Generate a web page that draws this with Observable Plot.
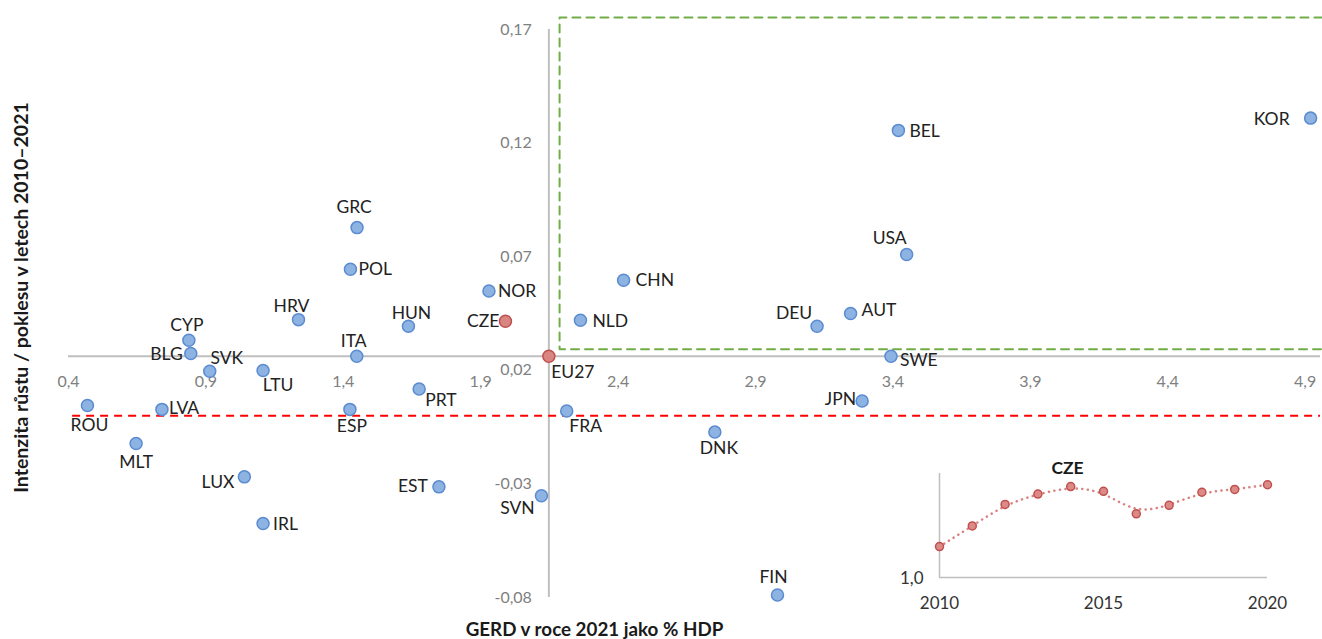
<!DOCTYPE html>
<html><head><meta charset="utf-8">
<script src="https://cdn.jsdelivr.net/npm/d3@7"></script>
<script src="https://cdn.jsdelivr.net/npm/@observablehq/plot@0.6"></script>
<style>
html,body{margin:0;padding:0;background:#fff;overflow:hidden;}
#wrap{position:relative;width:1322px;height:639px;background:#fff;}
#main{position:absolute;left:0;top:0;}
#inset{position:absolute;left:880px;top:440px;}
svg{font-family:Lato, "Open Sans", sans-serif;}
</style></head><body>
<div id="wrap"><div id="main"></div><div id="inset"></div></div>
<script>
// ---- Data ----
const countries = ["KOR","BEL","USA","GRC","POL","HRV","HUN","NOR","CZE","CHN","NLD","DEU","AUT","SWE","JPN","FRA","DNK","FIN","SVN","EU27","EST","IRL","LUX","MLT","ROU","LVA","ESP","PRT","ITA","LTU","SVK","BLG","CYP"];
const gerd2021 = [4.92,3.42,3.45,1.45,1.426,1.237,1.637,1.93,1.99,2.42,2.263,3.124,3.246,3.393,3.288,2.213,2.752,2.98,2.121,2.148,1.748,1.108,1.04,0.646,0.469,0.74,1.424,1.676,1.449,1.108,0.914,0.845,0.838];
const growth = [0.131,0.1256,0.071,0.0828,0.0645,0.0423,0.0394,0.0549,0.0416,0.0596,0.042,0.0394,0.045,0.0262,0.0065,0.0021,-0.0072,-0.0789,-0.0352,0.0262,-0.0313,-0.0474,-0.0269,-0.0122,0.0045,0.0028,0.0028,0.0118,0.0262,0.0199,0.0196,0.0274,0.0332];
const highlighted = ["CZE","EU27"];
const xTickValues = [0.4,0.9,1.4,1.9,2.4,2.9,3.4,3.9,4.4,4.9];
const yTickValues = [0.17,0.12,0.07,0.02,-0.03,-0.08];
const referenceGrowth = 0;                 // red dashed line
const greenBox = {x1: 2.187, x2: 4.963, y1: 0.0293, y2: 0.1753};

const insetYears = [2010,2011,2012,2013,2014,2015,2016,2017,2018,2019,2020];
const insetGerd = [1.33,1.55,1.78,1.89,1.97,1.92,1.68,1.77,1.91,1.94,1.99];
const insetYearTicks = [2010,2015,2020];
const insetValueTicks = [1.0];

// ---- Label layout (anchor, dx, dy) ----
const labelLayout = {
  KOR:["end",-21,1], BEL:["start",11,1], USA:["middle",-17,-16], GRC:["middle",-3,-20],
  POL:["start",8,0], HRV:["middle",-7,-13], HUN:["middle",3,-13], NOR:["start",9,0],
  CZE:["end",-6,0], CHN:["start",12,0], NLD:["start",12,1], DEU:["middle",-23,-13],
  AUT:["start",11,-3], SWE:["start",9,4], JPN:["end",-6,-2], FRA:["middle",19,15],
  DNK:["middle",4,16], FIN:["middle",-4,-18], SVN:["middle",-24,13], EU27:["middle",24,16],
  EST:["end",-11,0], IRL:["start",10,1], LUX:["end",-10,6], MLT:["middle",0,19],
  ROU:["middle",2,20], LVA:["start",7,-1], ESP:["middle",2,17], PRT:["start",6,11],
  ITA:["middle",-3,-15], LTU:["middle",15,15], SVK:["middle",17,-13], BLG:["end",-8,1],
  CYP:["middle",-2,-15]
};

const rows = countries.map((c,i)=>({country:c, gerd:gerd2021[i], growth:growth[i]}));
const eu = rows.find(d=>d.country==="EU27");
const comma = f => v => f(v).replace(".", ",").replace("\u2212", "-");
const fx = comma(d3.format(".1f"));
const fy = comma(d3.format(".2f"));

const labelMarks = rows.map(d => {
  const [anchor, dx, dy] = labelLayout[d.country];
  return Plot.text([d], {x:"gerd", y:"growth", text:"country", textAnchor:anchor, dx, dy,
    fontSize:17.5, fill:"#222"});
});

const main = Plot.plot({
  width:1322, height:639, margin:0,
  x:{domain:[0.4,4.956], range:[68,1320], axis:null},
  y:{domain:[-0.08,0.17], range:[597,29], axis:null},
  style:{background:"transparent", overflow:"visible"},
  marks:[
    // green dashed quadrant box (three sides visible)
    Plot.line([
      {x:greenBox.x2,y:greenBox.y2},{x:greenBox.x1,y:greenBox.y2},
      {x:greenBox.x1,y:greenBox.y1},{x:greenBox.x2,y:greenBox.y1}
    ],{x:"x",y:"y",stroke:"#70ad47",strokeWidth:2,strokeDasharray:"8 6"}),
    // axes crossing at EU27
    Plot.ruleX([eu.gerd],{y1:-0.08,y2:0.17,stroke:"#bfbfbf",strokeWidth:2}),
    Plot.ruleY([eu.growth],{x1:0.4,x2:4.956,stroke:"#bfbfbf",strokeWidth:2}),
    // red dashed reference line
    Plot.ruleY([referenceGrowth],{x1:0.415,x2:4.956,stroke:"#ff0000",strokeWidth:2,strokeDasharray:"8 6"}),
    // tick labels
    Plot.text(xTickValues,{x:d=>d,y:()=>eu.growth,text:d=>fx(d),dy:26,fontSize:16,fill:"#808080"}),
    Plot.text(yTickValues,{x:()=>eu.gerd,y:d=>d,text:d=>fy(d),dx:-17,textAnchor:"end",fontSize:16,fill:"#808080"}),
    // points
    Plot.dot(rows.filter(d=>!highlighted.includes(d.country)),{x:"gerd",y:"growth",r:6,fill:"#8db3e2",stroke:"#5b8bd0",strokeWidth:1.5}),
    Plot.dot(rows.filter(d=>highlighted.includes(d.country)),{x:"gerd",y:"growth",r:6,fill:"#d98683",stroke:"#c0504d",strokeWidth:1.5}),
    ...labelMarks,
    // axis titles
    Plot.text(["GERD v roce 2021 jako % HDP"],{frameAnchor:"top-left",dx:594,dy:629,textAnchor:"middle",lineAnchor:"middle",fontSize:18.8,fontWeight:"bold",fill:"#1a1a1a"}),
    Plot.text(["Intenzita růstu / poklesu v letech 2010–2021"],{frameAnchor:"top-left",dx:21,dy:297,rotate:-90,textAnchor:"middle",lineAnchor:"middle",fontSize:19.5,fontWeight:"bold",fill:"#1a1a1a"})
  ]
});
document.getElementById("main").append(main);

const insetRows = insetYears.map((y,i)=>({year:y, gerd:insetGerd[i]}));
const inset = Plot.plot({
  width:442, height:199, margin:0,
  x:{domain:[2010,2020], range:[59,387], axis:null},
  y:{domain:[1.0,2.11], range:[137,33], axis:null},
  style:{background:"transparent", overflow:"visible"},
  marks:[
    Plot.ruleX([2010],{y1:1.0,y2:2.11,stroke:"#bfbfbf",strokeWidth:1.5}),
    Plot.ruleY([1.0],{x1:2010,x2:2020,stroke:"#bfbfbf",strokeWidth:1.5}),
    Plot.line(insetRows,{x:"year",y:"gerd",curve:"basis",stroke:"#d98080",strokeWidth:2.5,strokeDasharray:"0.1 5.5",strokeLinecap:"round"}),
    Plot.dot(insetRows,{x:"year",y:"gerd",r:4,fill:"#dc8a88",stroke:"#c0504d",strokeWidth:1.5}),
    Plot.text(insetYearTicks,{x:d=>d,y:()=>1.0,text:d=>String(d),dy:26,fontSize:17,fill:"#333"}),
    Plot.text(insetValueTicks,{x:()=>2010,y:d=>d,text:d=>fx(d),dx:-16,dy:1,textAnchor:"end",fontSize:17,fill:"#333"}),
    Plot.text(["CZE"],{frameAnchor:"top-left",dx:187,dy:28,textAnchor:"middle",lineAnchor:"middle",fontSize:17.5,fontWeight:"bold",fill:"#1a1a1a"})
  ]
});
document.getElementById("inset").append(inset);
</script>
</body></html>
